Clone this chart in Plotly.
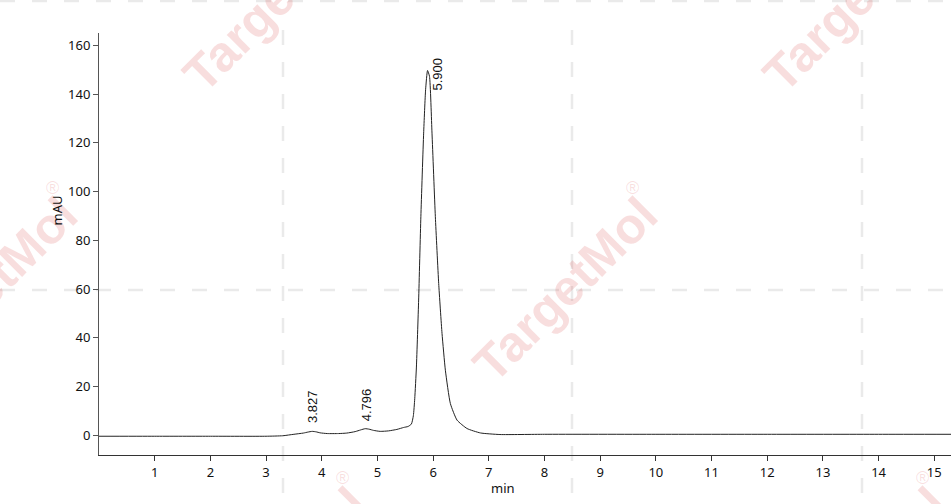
import plotly.graph_objects as go

# Chromatogram trace (time in min, absorbance in mAU)
time_min = [0.0, 1.0, 2.0, 3.0, 3.3, 3.5, 3.67, 3.75, 3.83, 3.9, 3.97, 4.1, 4.3, 4.45,
            4.6, 4.7, 4.78, 4.85, 4.93, 5.05, 5.2, 5.35, 5.47, 5.55, 5.61, 5.645,
            5.67, 5.70, 5.74, 5.78, 5.83, 5.865, 5.90, 5.935, 5.98, 6.04, 6.10, 6.16,
            6.22, 6.31, 6.43, 6.61, 6.85, 7.2, 8.0, 10.0, 12.0, 14.0, 15.3]
mau = [-0.4, -0.4, -0.4, -0.4, -0.2, 0.4, 0.9, 1.3, 1.6, 1.4, 1.0, 0.7, 0.7, 0.9,
       1.5, 2.2, 2.7, 2.5, 2.0, 1.6, 1.8, 2.4, 3.2, 3.6, 4.6, 8.0,
       15.0, 28.0, 55.5, 89.7, 124.0, 141.8, 149.7, 147.3, 124.0, 89.7, 62.3, 41.8,
       26.7, 13.0, 6.2, 2.75, 0.95, 0.3, 0.4, 0.4, 0.4, 0.4, 0.4]

peak_times = [3.827, 4.796, 5.900]
peak_heights = [1.6, 2.7, 149.7]
peak_labels = ["3.827", "4.796", "5.900"]

x_ticks = list(range(1, 16))
y_ticks = list(range(0, 161, 20))

W, H = 952, 504
ML, MR, MT, MB = 99, 1, 33, 49
PW, PH = W - ML - MR, H - MT - MB


def px(xp):
    return (xp - ML) / PW


def py(yp):
    return (H - MB - yp) / PH


fig = go.Figure()
fig.add_trace(go.Scatter(
    x=time_min, y=mau, mode="lines",
    line=dict(color="#222222", width=1, shape="spline", smoothing=0.5),
    hoverinfo="skip", showlegend=False))

shapes = []
dash_style = dict(color="#eaeaea", width=2.5, dash="15px,17px")
for xv in [283, 572, 862]:
    shapes.append(dict(type="line", xref="paper", yref="paper",
                       x0=px(xv), x1=px(xv), y0=py(30), y1=py(504),
                       line=dash_style, layer="below"))
for yv in [1, 290]:
    shapes.append(dict(type="line", xref="paper", yref="paper",
                       x0=px(0), x1=px(952), y0=py(yv), y1=py(yv),
                       line=dash_style, layer="below"))

annotations = []
wm_color = "rgba(215,60,60,0.17)"
for cx, cy in [(275, 0), (565, 290), (855, 0), (-15, 290), (275, 580), (855, 580)]:
    annotations.append(dict(
        text="<b>TargetMol</b>", xref="paper", yref="paper",
        x=px(cx), y=py(cy), xanchor="center", yanchor="middle",
        textangle=-45, showarrow=False,
        font=dict(family="Liberation Sans", size=50, color=wm_color)))
    annotations.append(dict(
        text="®", xref="paper", yref="paper",
        x=px(cx + 67), y=py(cy - 102), xanchor="center", yanchor="middle",
        showarrow=False,
        font=dict(family="Liberation Sans", size=18, color=wm_color)))

shifts = [(1, 6), (0, 5), (9, -22)]
for t, h, lab, (dx, dy) in zip(peak_times, peak_heights, peak_labels, shifts):
    annotations.append(dict(
        text=lab, x=t, y=h, xref="x", yref="y",
        xanchor="center", yanchor="bottom", textangle=-90,
        xshift=dx, yshift=dy, showarrow=False,
        font=dict(family="Liberation Sans", size=13, color="#111111")))

# axis titles (off-centre in the reference)
annotations.append(dict(text="mAU", xref="paper", yref="paper",
                        x=px(56.5), y=py(211), xanchor="center", yanchor="middle",
                        textangle=-90, showarrow=False,
                        font=dict(family="Noto Sans", size=13, color="#111111")))
annotations.append(dict(text="min", xref="paper", yref="paper",
                        x=px(502.5), y=py(488), xanchor="center", yanchor="middle",
                        showarrow=False,
                        font=dict(family="Noto Sans", size=13, color="#111111")))

fig.update_layout(
    width=W, height=H,
    margin=dict(l=ML, r=MR, t=MT, b=MB),
    paper_bgcolor="white", plot_bgcolor="rgba(0,0,0,0)",
    shapes=shapes, annotations=annotations,
    font=dict(family="Noto Sans", size=13, color="#111111"),
)
fig.update_xaxes(range=[0, 15.3], tickvals=x_ticks, ticktext=[str(v) for v in x_ticks],
                 showgrid=False, zeroline=False, showline=True, linecolor="#333333",
                 linewidth=1, ticks="outside", ticklen=5, tickcolor="#333333",
                 tickfont=dict(family="Noto Sans", size=13, color="#111111"))
fig.update_yaxes(range=[-8.1, 165.1], tickvals=y_ticks, ticktext=[str(v) for v in y_ticks],
                 showgrid=False, zeroline=False, showline=True, linecolor="#555555",
                 linewidth=1, ticks="outside", ticklen=5, tickcolor="#555555",
                 tickfont=dict(family="Noto Sans", size=13, color="#111111"))

fig.write_html("out.html", config={"displayModeBar": False},
               post_script="document.body.style.margin='0';document.body.style.overflow='hidden';")
